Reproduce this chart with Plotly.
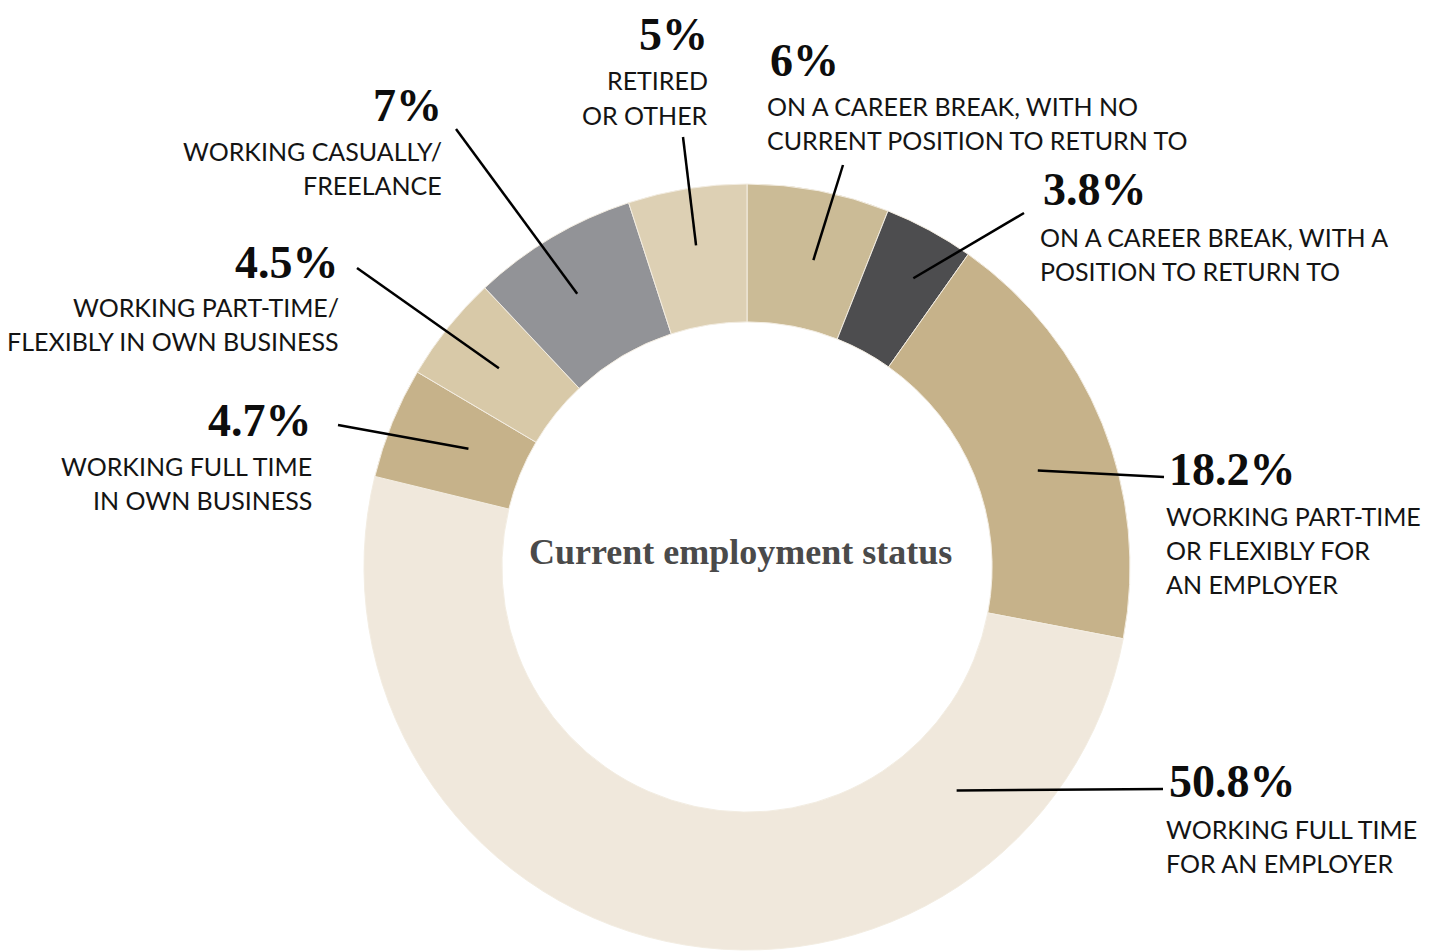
import math
import plotly.graph_objects as go

# Survey results, listed clockwise from 12 o'clock
statuses = [
    "On a career break, with no current position to return to",
    "On a career break, with a position to return to",
    "Working part-time or flexibly for an employer",
    "Working full time for an employer",
    "Working full time in own business",
    "Working part-time/flexibly in own business",
    "Working casually/freelance",
    "Retired or other",
]
shares = [6, 3.8, 18.2, 50.8, 4.7, 4.5, 7, 5]
share_labels = ["6%", "3.8%", "18.2%", "50.8%", "4.7%", "4.5%", "7%", "5%"]
caption_lines = [
    ["ON A CAREER BREAK, WITH NO", "CURRENT POSITION TO RETURN TO"],
    ["ON A CAREER BREAK, WITH A", "POSITION TO RETURN TO"],
    ["WORKING PART-TIME", "OR FLEXIBLY FOR", "AN EMPLOYER"],
    ["WORKING FULL TIME", "FOR AN EMPLOYER"],
    ["WORKING FULL TIME", "IN OWN BUSINESS"],
    ["WORKING PART-TIME/", "FLEXIBLY IN OWN BUSINESS"],
    ["WORKING CASUALLY/", "FREELANCE"],
    ["RETIRED", "OR OTHER"],
]
slice_colors = ["#cbbb96", "#4d4d4f", "#c6b28a", "#f0e8dc",
                "#c6b28a", "#d8c9a8", "#929397", "#ddd0b4"]
center_title = "Current employment status"

# Canvas and donut geometry (pixels)
W, H = 1432, 952
CX, CY, R = 747, 567, 383
HOLE = 0.64


def to_paper(x, y):
    return x / W, 1 - y / H


# Callout placement: where the leader starts inside the slice (fraction along
# the slice, fraction of radius), where it ends, and where the text block sits.
callouts = [
    dict(along=0.565, rad=0.82, end=(843, 165), side="left", tx=768, ny=60, ly=(106, 140)),
    dict(along=0.61, rad=0.87, end=(1024, 213), side="left", tx=1041, ny=190, ly=(237, 271)),
    dict(along=0.555, rad=0.80, end=(1164, 477), side="left", tx=1167, ny=469, ly=(516, 550, 584)),
    dict(along=0.197, rad=0.80, end=(1163, 789), side="left", tx=1167, ny=781, ly=(829, 863)),
    dict(along=0.55, rad=0.79, end=(338, 425), side="right", tx=314, ny=420, ly=(466, 500)),
    dict(along=0.5, rad=0.83, end=(357, 268), side="right", tx=341, ny=262, ly=(307, 341)),
    dict(along=0.45, rad=0.84, end=(456, 129), side="right", tx=444, ny=105, ly=(151, 185)),
    dict(along=0.5, rad=0.85, end=(683, 137), side="right", tx=710, ny=35, ly=(80, 115)),
]

dx0, dy1 = to_paper(CX - R, CY - R)
dx1, dy0 = to_paper(CX + R, CY + R)

fig = go.Figure(go.Pie(
    labels=statuses,
    values=shares,
    sort=False,
    direction="clockwise",
    rotation=0,
    hole=HOLE,
    textinfo="none",
    hoverinfo="label+percent",
    marker=dict(colors=slice_colors, line=dict(color="#f3ede2", width=1)),
    domain=dict(x=[dx0, dx1], y=[dy0, dy1]),
    showlegend=False,
))

total = sum(shares)
shapes, annotations = [], []
start = 0.0
for value, pct, lines, c in zip(shares, share_labels, caption_lines, callouts):
    frac = (start + value * c["along"]) / total
    theta = 2 * math.pi * frac
    r = R * c["rad"]
    x_in = CX + r * math.sin(theta)
    y_in = CY - r * math.cos(theta)
    (ax, ay), (bx, by) = to_paper(x_in, y_in), to_paper(*c["end"])
    shapes.append(dict(type="line", xref="paper", yref="paper",
                       x0=ax, y0=ay, x1=bx, y1=by,
                       line=dict(color="#000000", width=2.5)))
    xanchor = "left" if c["side"] == "left" else "right"
    nx, ny = to_paper(c["tx"], c["ny"])
    annotations.append(dict(
        text=pct, xref="paper", yref="paper", x=nx, y=ny,
        xanchor=xanchor, yanchor="middle", showarrow=False,
        font=dict(family="Liberation Serif", size=46, color="#0d0d0d", weight="bold"),
    ))
    for line_text, line_y in zip(lines, c["ly"]):
        lx, lyp = to_paper(c["tx"] - (3 if c["side"] == "left" else 0), line_y)
        annotations.append(dict(
            text=line_text, xref="paper", yref="paper", x=lx, y=lyp,
            xanchor=xanchor, yanchor="middle", showarrow=False,
            font=dict(family="Lato", size=25, color="#141414"),
        ))
    start += value

tx, ty = to_paper(740, 552)
annotations.append(dict(
    text=center_title, xref="paper", yref="paper", x=tx, y=ty,
    xanchor="center", yanchor="middle", showarrow=False,
    font=dict(family="Liberation Serif", size=36, color="#4a4a4a", weight="bold"),
))

fig.update_layout(
    width=W, height=H,
    margin=dict(l=0, r=0, t=0, b=0),
    paper_bgcolor="#ffffff",
    plot_bgcolor="#ffffff",
    shapes=shapes,
    annotations=annotations,
)

fig.write_html("out.html", config={"displayModeBar": False})
